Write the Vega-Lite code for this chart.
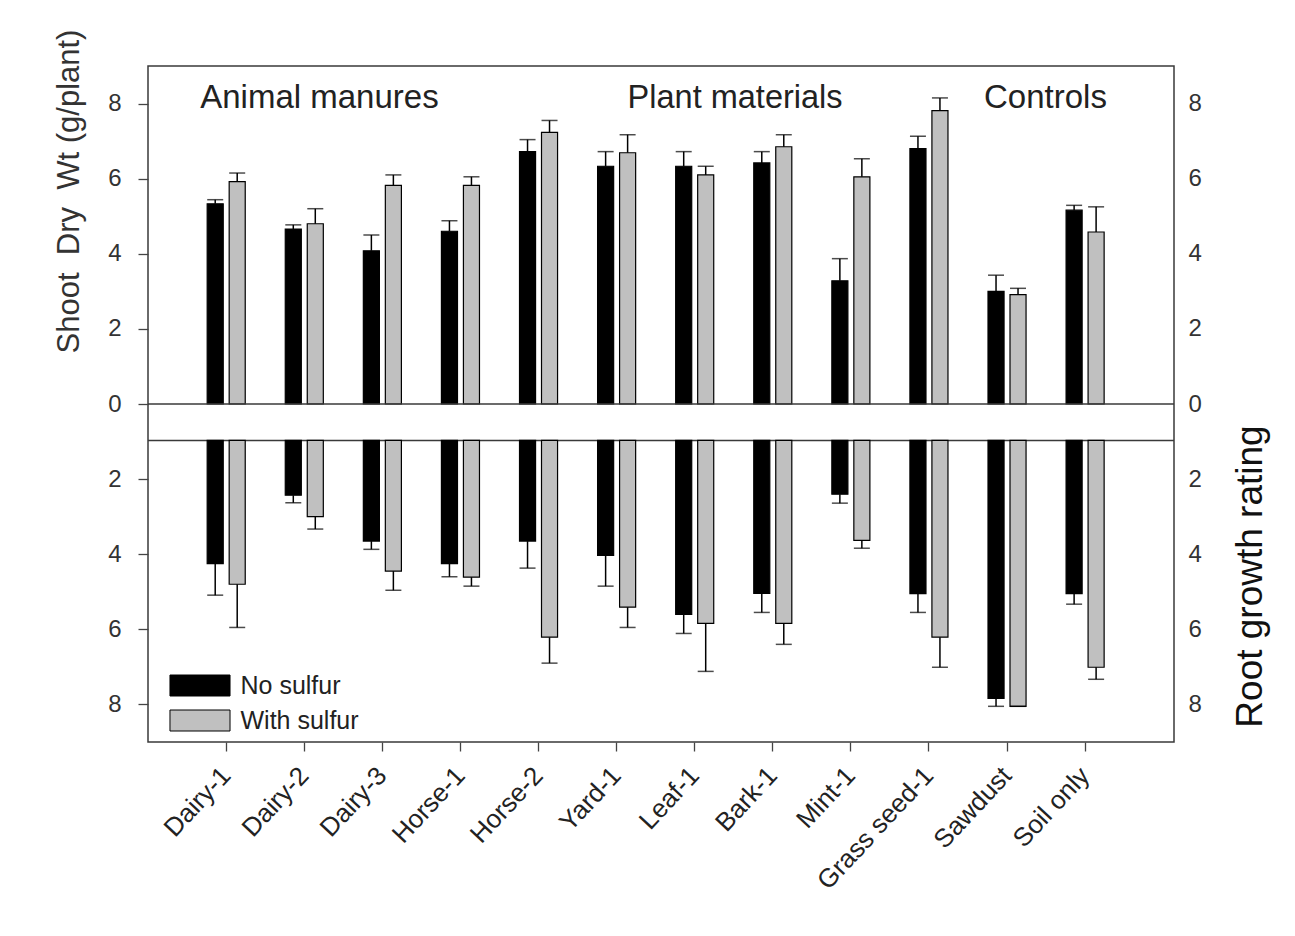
{
  "$schema": "https://vega.github.io/schema/vega-lite/v6.json",
  "width": 1026,
  "height": 676,
  "padding": {"left": 52, "top": 29, "right": 5, "bottom": 5},
  "background": "white",
  "config": {
    "font": "Liberation Sans",
    "view": {"stroke": "#3a3a3a", "strokeWidth": 1.5},
    "axis": {"grid": false, "domain": false, "labelColor": "#333", "titleColor": "#333", "tickColor": "#444", "tickWidth": 1.3, "labelFont": "Liberation Sans", "titleFont": "Liberation Sans", "titleFontWeight": "normal"}
  },
  "data": {
    "values": [
      {"material": "Dairy-1", "treatment": "No sulfur", "shoot": 5.33, "shoot_hi": 5.44, "root": 4.25, "root_hi": 5.09},
      {"material": "Dairy-1", "treatment": "With sulfur", "shoot": 5.92, "shoot_hi": 6.15, "root": 4.8, "root_hi": 5.95},
      {"material": "Dairy-2", "treatment": "No sulfur", "shoot": 4.66, "shoot_hi": 4.77, "root": 2.43, "root_hi": 2.63},
      {"material": "Dairy-2", "treatment": "With sulfur", "shoot": 4.8, "shoot_hi": 5.2, "root": 3.0, "root_hi": 3.33},
      {"material": "Dairy-3", "treatment": "No sulfur", "shoot": 4.08, "shoot_hi": 4.5, "root": 3.65, "root_hi": 3.87},
      {"material": "Dairy-3", "treatment": "With sulfur", "shoot": 5.82, "shoot_hi": 6.1, "root": 4.45, "root_hi": 4.96},
      {"material": "Horse-1", "treatment": "No sulfur", "shoot": 4.6, "shoot_hi": 4.88, "root": 4.25, "root_hi": 4.6},
      {"material": "Horse-1", "treatment": "With sulfur", "shoot": 5.82, "shoot_hi": 6.05, "root": 4.61, "root_hi": 4.85},
      {"material": "Horse-2", "treatment": "No sulfur", "shoot": 6.72, "shoot_hi": 7.04, "root": 3.65, "root_hi": 4.37},
      {"material": "Horse-2", "treatment": "With sulfur", "shoot": 7.23, "shoot_hi": 7.55, "root": 6.21, "root_hi": 6.9},
      {"material": "Yard-1", "treatment": "No sulfur", "shoot": 6.33, "shoot_hi": 6.72, "root": 4.03, "root_hi": 4.85},
      {"material": "Yard-1", "treatment": "With sulfur", "shoot": 6.69, "shoot_hi": 7.17, "root": 5.41, "root_hi": 5.95},
      {"material": "Leaf-1", "treatment": "No sulfur", "shoot": 6.33, "shoot_hi": 6.72, "root": 5.6, "root_hi": 6.11},
      {"material": "Leaf-1", "treatment": "With sulfur", "shoot": 6.1, "shoot_hi": 6.33, "root": 5.84, "root_hi": 7.12},
      {"material": "Bark-1", "treatment": "No sulfur", "shoot": 6.42, "shoot_hi": 6.72, "root": 5.04, "root_hi": 5.55},
      {"material": "Bark-1", "treatment": "With sulfur", "shoot": 6.85, "shoot_hi": 7.17, "root": 5.84, "root_hi": 6.4},
      {"material": "Mint-1", "treatment": "No sulfur", "shoot": 3.28, "shoot_hi": 3.87, "root": 2.4, "root_hi": 2.64},
      {"material": "Mint-1", "treatment": "With sulfur", "shoot": 6.05, "shoot_hi": 6.53, "root": 3.63, "root_hi": 3.84},
      {"material": "Grass seed-1", "treatment": "No sulfur", "shoot": 6.8, "shoot_hi": 7.13, "root": 5.05, "root_hi": 5.55},
      {"material": "Grass seed-1", "treatment": "With sulfur", "shoot": 7.81, "shoot_hi": 8.15, "root": 6.21, "root_hi": 7.01},
      {"material": "Sawdust", "treatment": "No sulfur", "shoot": 3.0, "shoot_hi": 3.43, "root": 7.84, "root_hi": 8.05},
      {"material": "Sawdust", "treatment": "With sulfur", "shoot": 2.91, "shoot_hi": 3.08, "root": 8.05, "root_hi": 8.05},
      {"material": "Soil only", "treatment": "No sulfur", "shoot": 5.16, "shoot_hi": 5.29, "root": 5.05, "root_hi": 5.33},
      {"material": "Soil only", "treatment": "With sulfur", "shoot": 4.58, "shoot_hi": 5.25, "root": 7.01, "root_hi": 7.33}
    ]
  },
  "resolve": {"scale": {"y": "independent"}, "axis": {"y": "independent"}},
  "layer": [
    {
      "layer": [
        {
          "mark": {"type": "bar", "stroke": "#000", "strokeWidth": 1.2},
          "encoding": {
            "x": {"field": "material", "type": "nominal",
              "scale": {"domain": ["Dairy-1", "Dairy-2", "Dairy-3", "Horse-1", "Horse-2", "Yard-1", "Leaf-1", "Bark-1", "Mint-1", "Grass seed-1", "Sawdust", "Soil only"], "paddingInner": 0, "paddingOuter": 0.57, "align": 0.44},
              "axis": {"title": null, "labelAngle": -47, "labelAlign": "right", "labelBaseline": "middle", "labelFontSize": 26, "labelColor": "#222", "tickSize": 9, "labelPadding": 20, "domain": false}},
            "xOffset": {"field": "treatment", "type": "nominal", "scale": {"domain": ["No sulfur", "With sulfur"], "paddingInner": 0.27, "paddingOuter": 0.91}},
            "y": {"field": "shoot", "type": "quantitative",
              "scale": {"domain": [-9, 9], "nice": false, "zero": false},
              "axis": {"orient": "left", "values": [-8, -6, -4, -2, 0, 2, 4, 6, 8], "labelExpr": "'' + abs(datum.value)", "tickSize": 10, "labelPadding": 17, "labelFontSize": 24, "title": "Shoot\u00a0 Dry\u00a0 Wt (g/plant)", "titleFontSize": 31, "titleAngle": -90, "titleX": -70, "titleY": 125, "titleAlign": "center", "titleBaseline": "alphabetic"}},
            "y2": {"datum": 0},
            "color": {"field": "treatment", "type": "nominal",
              "scale": {"domain": ["No sulfur", "With sulfur"], "range": ["#000000", "#c0c0c0"]},
              "legend": {"orient": "none", "legendX": 39.5, "legendY": 607, "title": null, "symbolType": "M-2.86,-1L2.86,-1L2.86,1L-2.86,1Z", "symbolSize": 441, "symbolStrokeColor": "#000", "symbolStrokeWidth": 1, "symbolOpacity": 1, "labelFontSize": 25, "labelOffset": 28, "rowPadding": 9, "padding": 0, "labelColor": "#222", "labelFont": "Liberation Sans"}}
          }
        },
        {
          "mark": {"type": "rule", "color": "#000", "strokeWidth": 1.5},
          "encoding": {
            "x": {"field": "material", "type": "nominal"},
            "xOffset": {"field": "treatment", "type": "nominal"},
            "y": {"field": "shoot", "type": "quantitative"},
            "y2": {"field": "shoot_hi"}
          }
        },
        {
          "mark": {"type": "tick", "color": "#000", "thickness": 1.5, "size": 16, "orient": "horizontal"},
          "encoding": {
            "x": {"field": "material", "type": "nominal"},
            "xOffset": {"field": "treatment", "type": "nominal"},
            "y": {"field": "shoot_hi", "type": "quantitative"}
          }
        },
        {
          "data": {"values": [{}]},
          "mark": {"type": "rule", "color": "#3a3a3a", "strokeWidth": 1.5},
          "encoding": {"y": {"datum": 0, "type": "quantitative"}}
        },
        {
          "data": {"values": [{}]},
          "mark": {"type": "rule", "color": "#3a3a3a", "strokeWidth": 1.5},
          "encoding": {"y": {"datum": -0.97, "type": "quantitative"}}
        },
        {
          "data": {"values": [{}]},
          "mark": {"type": "text", "align": "left", "baseline": "alphabetic", "dx": -26, "fontSize": 33, "color": "#222"},
          "encoding": {
            "x": {"datum": "Dairy-1", "type": "nominal"},
            "y": {"datum": 7.88, "type": "quantitative"},
            "text": {"value": "Animal manures"}
          }
        },
        {
          "data": {"values": [{}]},
          "mark": {"type": "text", "align": "left", "baseline": "alphabetic", "dx": 11, "fontSize": 32.5, "color": "#222"},
          "encoding": {
            "x": {"datum": "Yard-1", "type": "nominal"},
            "y": {"datum": 7.88, "type": "quantitative"},
            "text": {"value": "Plant materials"}
          }
        },
        {
          "data": {"values": [{}]},
          "mark": {"type": "text", "align": "left", "baseline": "alphabetic", "dx": -23, "fontSize": 33, "color": "#222"},
          "encoding": {
            "x": {"datum": "Sawdust", "type": "nominal"},
            "y": {"datum": 7.88, "type": "quantitative"},
            "text": {"value": "Controls"}
          }
        }
      ]
    },
    {
      "layer": [
        {
          "mark": {"type": "bar", "stroke": "#000", "strokeWidth": 1.2},
          "encoding": {
            "x": {"field": "material", "type": "nominal"},
            "xOffset": {"field": "treatment", "type": "nominal"},
            "y": {"field": "root", "type": "quantitative",
              "scale": {"domain": [-9, 9], "nice": false, "zero": false, "reverse": true},
              "axis": {"orient": "right", "values": [-8, -6, -4, -2, 0, 2, 4, 6, 8], "labelExpr": "'' + abs(datum.value)", "ticks": false, "labelPadding": 14, "labelFontSize": 24, "title": "Root growth rating", "titleFontSize": 37, "titleAngle": -90, "titleX": 87, "titleY": 510, "titleAlign": "center", "titleBaseline": "alphabetic", "titleColor": "#111"}},
            "y2": {"datum": 0.97},
            "color": {"field": "treatment", "type": "nominal", "legend": null}
          }
        },
        {
          "mark": {"type": "rule", "color": "#000", "strokeWidth": 1.5},
          "encoding": {
            "x": {"field": "material", "type": "nominal"},
            "xOffset": {"field": "treatment", "type": "nominal"},
            "y": {"field": "root", "type": "quantitative"},
            "y2": {"field": "root_hi"}
          }
        },
        {
          "mark": {"type": "tick", "color": "#000", "thickness": 1.5, "size": 16, "orient": "horizontal"},
          "encoding": {
            "x": {"field": "material", "type": "nominal"},
            "xOffset": {"field": "treatment", "type": "nominal"},
            "y": {"field": "root_hi", "type": "quantitative"}
          }
        }
      ]
    }
  ]
}
